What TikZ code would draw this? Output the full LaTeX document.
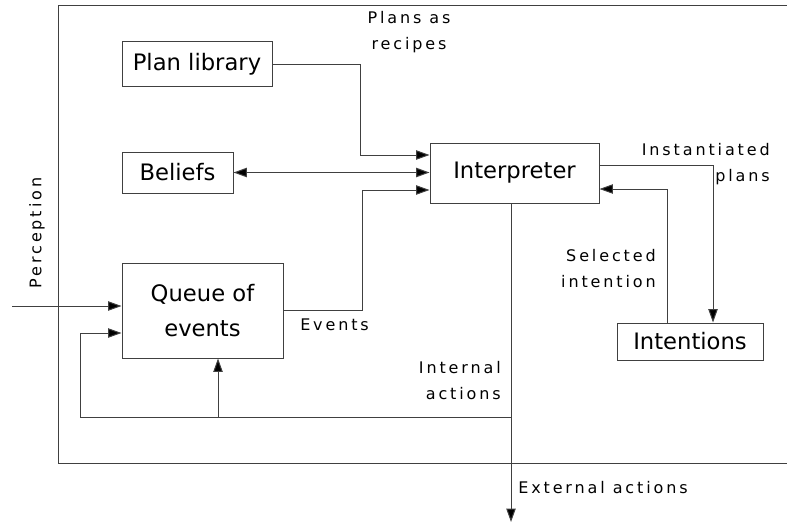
\documentclass[tikz,border=0pt]{standalone}
\usepackage{fontspec}
\setmainfont{DejaVu Sans}
\newfontfamily\lblfont[LetterSpace=18]{DejaVu Sans}
\usetikzlibrary{arrows.meta}

\begin{document}
\begin{tikzpicture}[x=0.75pt,y=0.75pt,yscale=-1,xscale=1,
  box/.style={draw=black!75,line width=0.75pt,inner sep=0pt,align=center,font=\fontsize{17}{26}\selectfont},
  lbl/.style={inner sep=0.75pt,font=\lblfont\fontsize{12}{19.5}\selectfont},
  line/.style={draw=black!75,line width=0.75pt},
  arr/.style={line,-{Triangle[length=10pt,width=7pt,fill=black]}},
  arrboth/.style={line,{Triangle[length=10pt,width=7pt,fill=black]}-{Triangle[length=10pt,width=7pt,fill=black]}}]
\useasboundingbox (0,0) rectangle (787,524);

%Frame (open on the right)
\draw [line] (787,6) -- (58,6) -- (58,463) -- (787,463) ;

%Boxes
\node [box,minimum width=112.5pt,minimum height=33.75pt] (plan) at (197,64.5) {Plan library};
\node [box,minimum width=83.25pt,minimum height=30.75pt] (beliefs) at (177.5,172.5) {Beliefs};
\node [box,minimum width=126.75pt,minimum height=45pt] (interp) at (514.5,173) {Interpreter};
\node [box,minimum width=109.5pt,minimum height=27.75pt] (intent) at (690,341.5) {Intentions};
\node [box,minimum width=120.75pt,minimum height=71.25pt] (queue) at (202.5,310.5) {Queue of\\events};

%Bend points
\coordinate (planbend) at (360,155);
\coordinate (evbend) at (362,190);
\coordinate (instbend) at (713,165);
\coordinate (selbend) at (667,189);
\coordinate (ext) at (511,522);
\coordinate (intstart) at (511,417);
\coordinate (intleft) at (80,417);
\coordinate (intup) at (80,333);
\coordinate (intmid) at (218,417);
\coordinate (perc) at (12,306);

%Connectors
\draw [arr] (plan.east) -| (planbend) -- (planbend -| interp.west) ;
\draw [arrboth] (beliefs.east) -- (beliefs.east -| interp.west) ;
\draw [arr] (queue.east) -| (evbend) -- (evbend -| interp.west) ;
\draw [arr] (instbend -| interp.east) -- (instbend) -- (instbend |- intent.north) ;
\draw [arr] (selbend |- intent.north) -- (selbend) -- (selbend -| interp.east) ;
\draw [arr] (ext |- interp.south) -- (ext) ;
\draw [arr] (intstart) -- (intleft) -- (intup) -- (intup -| queue.west) ;
\draw [arr] (intmid) -- (intmid |- queue.south) ;
\draw [arr] (perc) -- (perc -| queue.west) ;

% Text Nodes
\node [lbl,align=center] (plansrec) at (409,32) {Plans as\\recipes};
\node [lbl,align=right,anchor=east] (instlbl) at (771,164) {Instantiated\\plans};
\node [lbl,align=right,anchor=east] (sellbl) at (657,269) {Selected\\intention};
\node [lbl,anchor=west] (evlbl) at (299,325) {Events};
\node [lbl,align=right,anchor=east] (intlbl) at (502,381) {Internal\\actions};
\node [lbl,anchor=west] (extlbl) at (517,488) {External actions};
\node [lbl,rotate=90] (perclbl) at (37,233) {Perception};

\end{tikzpicture}
\end{document}
